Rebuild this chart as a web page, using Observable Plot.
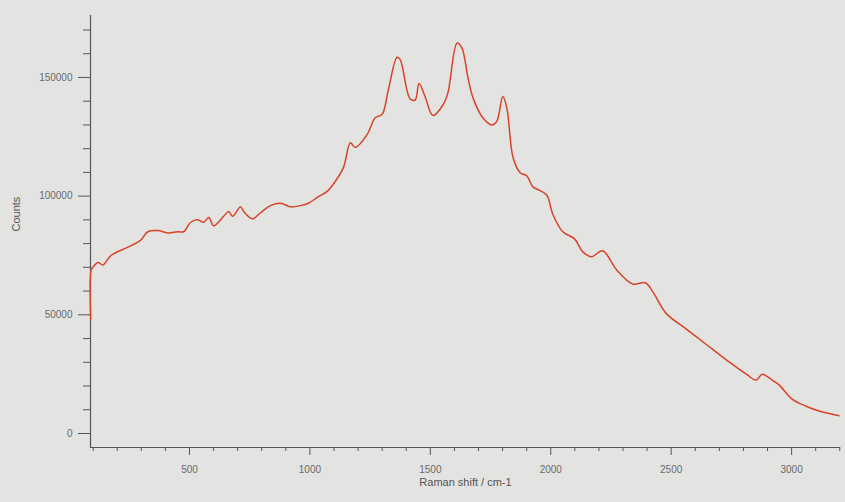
<!DOCTYPE html>
<html>
<head>
<meta charset="utf-8">
<script src="https://cdn.jsdelivr.net/npm/d3@7"></script>
<script src="https://cdn.jsdelivr.net/npm/@observablehq/plot@0.6"></script>
<style>
  html, body { margin: 0; padding: 0; background: #e3e3e1; }
  #chart { width: 845px; height: 502px; overflow: hidden; }
  svg { display: block; }
</style>
</head>
<body>
<div id="chart"></div>
<script>
const shift = [90, 92, 99, 120, 141, 174, 244, 298, 327, 369, 410, 451, 476, 505, 534, 559, 580, 600, 642, 663, 679, 712, 725, 762, 795, 836, 878, 919, 961, 994, 1031, 1072, 1097, 1139, 1168, 1188, 1238, 1271, 1300, 1325, 1362, 1375, 1416, 1437, 1453, 1478, 1511, 1553, 1573, 1611, 1631, 1656, 1677, 1718, 1756, 1776, 1801, 1818, 1843, 1872, 1901, 1925, 1942, 1983, 2008, 2050, 2099, 2133, 2170, 2215, 2273, 2340, 2393, 2422, 2480, 2563, 2646, 2729, 2812, 2853, 2878, 2919, 2948, 3002, 3060, 3114, 3197];
const counts = [48000, 69000, 70000, 72000, 71000, 75000, 78500, 81500, 85000, 85500, 84500, 85000, 85000, 89000, 90000, 89000, 91000, 87500, 91500, 93500, 91500, 95500, 93500, 90500, 93000, 96000, 97000, 95500, 96000, 97000, 99500, 102000, 105000, 112000, 122500, 120500, 126000, 133000, 134500, 144500, 158500, 157500, 141000, 140500, 147500, 142000, 134000, 138500, 143500, 164500, 162500, 150000, 141500, 133000, 130000, 131500, 142000, 137000, 116500, 110000, 108500, 104000, 103000, 100500, 92500, 85000, 82000, 76500, 74500, 77000, 69000, 63000, 63500, 60000, 50500, 44000, 37500, 31000, 25000, 22500, 25000, 22500, 20500, 14500, 11500, 9500, 7500];

const xMajorTicks = [500, 1000, 1500, 2000, 2500, 3000];
const xMinorTicks = d3.range(100, 3201, 100).filter(v => v % 500 !== 0);
const yMajorTicks = [0, 50000, 100000, 150000];
const yMinorTicks = d3.range(0, 170001, 10000).filter(v => v % 50000 !== 0);
const xLabel = "Raman shift / cm-1";
const yLabel = "Counts";

const data = shift.map((s, i) => ({shift: s, counts: counts[i]}));
const xDomain = [89, 3203];
const yDomain = [-5900, 176100];

const chart = Plot.plot({
  width: 845,
  height: 502,
  marginLeft: 90,
  marginRight: 5,
  marginTop: 15,
  marginBottom: 55,
  style: {background: "#e3e3e1", fontFamily: "Liberation Sans, Arial, sans-serif", fontSize: "10px", color: "#5a5a5a"},
  x: {domain: xDomain, label: null},
  y: {domain: yDomain, label: null},
  marks: [
    Plot.axisX({ticks: xMinorTicks, tickSize: 4, tickFormat: () => "", stroke: "#555"}),
    Plot.axisX({ticks: xMajorTicks, tickSize: 8, tickPadding: 10, tickFormat: d => String(d), stroke: "#555", fill: "#6a6a6a"}),
    Plot.axisY({ticks: yMinorTicks, tickSize: 7, tickFormat: () => "", stroke: "#555"}),
    Plot.axisY({ticks: yMajorTicks, tickSize: 12, tickPadding: 6, tickFormat: d => String(d), stroke: "#555", fill: "#6a6a6a"}),
    Plot.ruleX([xDomain[0]], {stroke: "#555", strokeWidth: 1.2}),
    Plot.ruleY([yDomain[0]], {stroke: "#555", strokeWidth: 1.2}),
    Plot.line(data, {x: "shift", y: "counts", stroke: "#d8432a", strokeWidth: 1.5, curve: "catmull-rom"}),
    Plot.text([xLabel], {frameAnchor: "bottom", dy: 38, fontSize: 11, fill: "#555"}),
    Plot.text([yLabel], {frameAnchor: "left", dx: -74, rotate: -90, fontSize: 11, fill: "#555"})
  ]
});
document.getElementById("chart").appendChild(chart);
</script>
</body>
</html>
